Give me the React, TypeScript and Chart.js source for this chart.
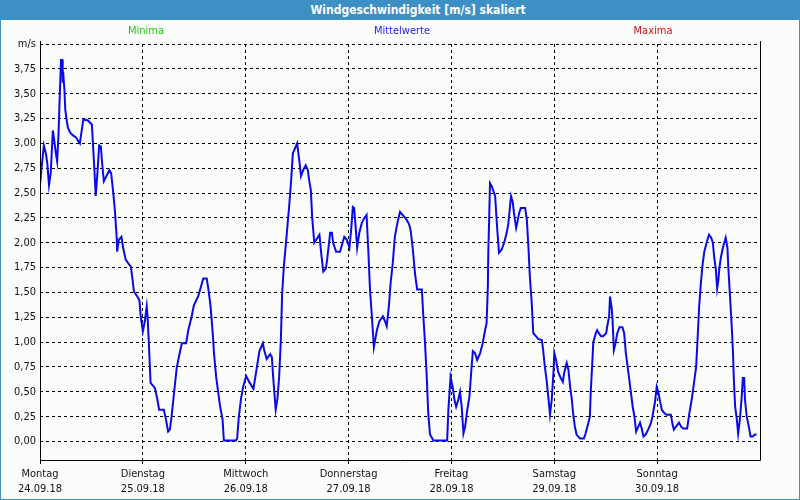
import React, { useEffect, useRef } from "react";
import { Chart, registerables } from "chart.js";

Chart.register(...registerables);

// hours since Monday 24.09.18 00:00
const hours = [
  0.0, 0.4, 0.9, 1.4, 1.7, 2.1, 2.5, 3.0, 3.3, 3.7, 4.0, 4.3, 4.5, 4.7, 4.9, 5.2, 5.3, 5.4, 5.7, 5.9,
  6.2, 6.5, 7.0, 7.7, 8.4, 9.1, 9.3, 10.1, 11.2, 12.1, 12.3, 12.7, 13.0, 13.4, 13.8, 14.2, 14.5, 14.9, 15.6, 16.2,
  16.6, 17.1, 17.5, 17.9, 18.0, 18.4, 19.0, 19.4, 20.0, 20.8, 21.2, 21.6, 21.9, 22.7, 23.2, 23.5, 24.0, 24.5, 24.9, 25.1,
  25.4, 25.8, 26.8, 27.4, 27.8, 28.9, 29.4, 29.9, 30.3, 30.7, 31.3, 31.9, 32.5, 33.1, 34.1, 34.6, 35.4, 35.9, 36.9, 37.7,
  38.1, 38.9, 39.3, 39.8, 40.3, 40.6, 41.1, 41.6, 42.0, 42.6, 42.9, 45.7, 46.0, 46.4, 46.9, 47.4, 48.1, 48.8, 49.8, 50.4,
  51.2, 52.0, 52.3, 52.9, 53.7, 54.1, 54.4, 55.0, 55.4, 55.8, 56.2, 56.5, 56.9, 57.6, 58.2, 58.6, 59.0, 59.5, 60.0, 60.5,
  60.9, 61.4, 62.0, 62.5, 62.8, 63.2, 63.5, 64.0, 64.6, 65.2, 65.6, 66.1, 66.7, 67.0, 67.7, 68.1, 68.4, 69.1, 70.0, 70.4,
  71.0, 71.6, 72.2, 72.6, 73.0, 73.3, 73.7, 74.0, 74.5, 75.1, 75.7, 76.2, 76.6, 77.0, 77.5, 77.9, 78.6, 79.2, 80.0, 80.5,
  80.9, 81.4, 81.8, 82.3, 82.8, 83.4, 84.0, 84.6, 85.4, 86.1, 86.5, 87.0, 87.5, 88.0, 89.1, 89.4, 89.8, 90.2, 90.6, 91.0,
  91.8, 95.0, 95.3, 95.8, 96.3, 96.7, 97.1, 97.6, 98.0, 98.4, 98.8, 99.2, 99.7, 100.2, 100.6, 101.0, 101.5, 102.0, 102.7, 103.3,
  103.8, 104.2, 104.5, 104.6, 104.8, 105.0, 105.4, 105.8, 106.2, 106.4, 106.7, 107.1, 107.7, 108.3, 108.9, 109.3, 109.7, 109.9, 110.3, 110.6,
  111.1, 111.4, 111.8, 112.2, 113.2, 113.6, 114.0, 114.3, 114.7, 115.1, 115.7, 116.3, 117.1, 117.4, 117.8, 118.2, 118.6, 119.0, 119.4, 119.8,
  120.0, 120.4, 120.9, 121.5, 122.0, 122.3, 122.9, 123.3, 123.7, 124.1, 124.4, 124.8, 125.2, 126.0, 126.9, 127.3, 127.9, 128.3, 128.5, 128.9,
  129.1, 129.7, 130.0, 130.4, 130.9, 131.4, 132.1, 132.4, 132.8, 133.0, 133.2, 133.4, 133.6, 133.9, 134.3, 134.7, 135.2, 135.9, 136.3, 136.7,
  137.3, 137.8, 138.3, 138.7, 139.1, 139.6, 140.0, 140.4, 140.8, 141.3, 141.9, 142.5, 142.9, 143.5, 143.9, 144.3, 144.7, 145.1, 145.6, 146.2,
  146.8, 147.2, 147.6, 147.9, 148.4, 149.1, 149.6, 150.1, 151.0, 151.5, 152.1, 152.6, 153.1, 153.5, 153.8, 154.2, 154.6, 155.0, 155.6, 156.1,
  156.6, 157.0, 157.3, 157.7, 158.0, 158.3, 158.5, 158.9, 159.4, 160.0, 160.4, 160.6, 161.0, 161.4, 161.7, 161.9, 162.2, 162.6, 162.9, 163.3,
  163.7, 164.0, 164.3, 164.5, 164.9, 165.3, 165.8, 166.3, 166.8, 167.2,
];

// mean wind speed [m/s]
const speeds = [
  2.58, 2.77, 2.98, 2.89, 2.80, 2.58, 2.70, 3.13, 3.04, 2.90, 2.82, 3.07, 3.34, 3.59, 3.84, 3.84, 3.61, 3.72, 3.54, 3.34,
  3.24, 3.16, 3.11, 3.08, 3.06, 3.01, 3.00, 3.24, 3.23, 3.19, 3.04, 2.73, 2.47, 2.70, 2.98, 2.97, 2.80, 2.62, 2.68, 2.73,
  2.70, 2.50, 2.31, 2.05, 1.91, 2.03, 2.06, 1.95, 1.83, 1.78, 1.76, 1.63, 1.51, 1.46, 1.42, 1.26, 1.11, 1.22, 1.36, 1.26,
  0.99, 0.59, 0.54, 0.42, 0.32, 0.32, 0.22, 0.10, 0.12, 0.25, 0.50, 0.74, 0.87, 0.99, 0.99, 1.12, 1.26, 1.37, 1.46, 1.58,
  1.64, 1.64, 1.53, 1.36, 1.09, 0.89, 0.65, 0.49, 0.36, 0.22, 0.01, 0.01, 0.03, 0.25, 0.43, 0.55, 0.66, 0.60, 0.53, 0.69,
  0.91, 0.99, 0.92, 0.83, 0.88, 0.85, 0.65, 0.32, 0.43, 0.65, 1.02, 1.49, 1.76, 2.10, 2.40, 2.63, 2.90, 2.95, 3.00, 2.83,
  2.67, 2.73, 2.78, 2.73, 2.63, 2.53, 2.26, 2.00, 2.04, 2.08, 1.90, 1.71, 1.74, 1.83, 2.10, 2.10, 2.00, 1.91, 1.91, 1.97,
  2.06, 2.03, 1.95, 2.13, 2.36, 2.35, 2.13, 1.95, 2.10, 2.20, 2.25, 2.28, 1.93, 1.53, 1.22, 0.95, 1.12, 1.21, 1.26, 1.21,
  1.16, 1.36, 1.59, 1.79, 2.06, 2.20, 2.31, 2.28, 2.24, 2.19, 2.12, 1.93, 1.69, 1.53, 1.53, 1.29, 1.02, 0.69, 0.28, 0.07,
  0.01, 0.01, 0.33, 0.65, 0.55, 0.42, 0.35, 0.42, 0.50, 0.35, 0.08, 0.15, 0.32, 0.45, 0.69, 0.91, 0.89, 0.82, 0.89, 0.99,
  1.11, 1.19, 1.56, 1.90, 2.23, 2.60, 2.57, 2.52, 2.47, 2.33, 2.13, 1.90, 1.93, 2.00, 2.10, 2.20, 2.38, 2.47, 2.41, 2.30,
  2.15, 2.21, 2.30, 2.35, 2.35, 2.23, 1.93, 1.66, 1.42, 1.09, 1.06, 1.03, 1.02, 0.92, 0.75, 0.62, 0.45, 0.27, 0.42, 0.69,
  0.89, 0.82, 0.70, 0.64, 0.60, 0.69, 0.79, 0.72, 0.55, 0.42, 0.28, 0.15, 0.07, 0.03, 0.03, 0.08, 0.18, 0.25, 0.49, 0.82,
  1.00, 1.09, 1.12, 1.09, 1.06, 1.06, 1.09, 1.17, 1.26, 1.46, 1.46, 1.34, 1.22, 0.92, 0.99, 1.09, 1.15, 1.15, 1.09, 0.89,
  0.69, 0.52, 0.35, 0.25, 0.10, 0.15, 0.19, 0.13, 0.05, 0.07, 0.12, 0.18, 0.25, 0.40, 0.55, 0.49, 0.40, 0.32, 0.29, 0.27,
  0.27, 0.27, 0.17, 0.12, 0.15, 0.19, 0.15, 0.13, 0.13, 0.28, 0.43, 0.59, 0.75, 1.09, 1.36, 1.59, 1.78, 1.91, 2.01, 2.08,
  2.05, 2.00, 1.86, 1.73, 1.54, 1.63, 1.74, 1.86, 1.96, 2.05, 1.95, 1.76, 1.46, 1.16, 0.89, 0.62, 0.35, 0.22, 0.08, 0.22,
  0.43, 0.64, 0.64, 0.42, 0.25, 0.17, 0.05, 0.05, 0.07, 0.07,
];

const dayNames = ["Montag", "Dienstag", "Mittwoch", "Donnerstag", "Freitag", "Samstag", "Sonntag"];
const dayDates = ["24.09.18", "25.09.18", "26.09.18", "27.09.18", "28.09.18", "29.09.18", "30.09.18"];
const dayTickHours = [0, 24, 48, 72, 96, 120, 144];
const yTickValues = [0, 0.25, 0.5, 0.75, 1, 1.25, 1.5, 1.75, 2, 2.25, 2.5, 2.75, 3, 3.25, 3.5, 3.75, 4];
const yUnitLabel = "m/s";
const titleText = "Windgeschwindigkeit [m/s] skaliert";
const seriesNames = ["Minima", "Mittelwerte", "Maxima"];
const seriesColors = ["#22C812", "#1E1EE6", "#C81414"];

const FONT = "'DejaVu Sans Condensed', 'Liberation Sans', sans-serif";
const FRAME_BLUE = "#3C90C5";
const BG = "#FAFDFA";

const framePlugin = {
  id: "framePlugin",
  afterDraw(chart: any) {
    const { ctx, chartArea } = chart;
    const l = Math.round(chartArea.left) + 0.5;
    const r = Math.round(chartArea.right) + 0.5;
    const t = Math.round(chartArea.top) - 3;
    const b = Math.round(chartArea.bottom) + 0.5;
    ctx.save();
    ctx.strokeStyle = "#000";
    ctx.lineWidth = 1;
    ctx.setLineDash([]);
    ctx.beginPath();
    ctx.moveTo(l, t);
    ctx.lineTo(l, b);
    ctx.lineTo(r, b);
    ctx.lineTo(r, t);
    ctx.stroke();
    ctx.restore();
  },
};

export default function App() {
  const canvasRef = useRef<HTMLCanvasElement | null>(null);

  useEffect(() => {
    document.body.style.margin = "0";
    const canvas = canvasRef.current;
    if (!canvas) return;
    const points = hours.map((h, i) => ({ x: h, y: speeds[i] }));
    const chart = new Chart(canvas, {
      type: "line",
      data: {
        datasets: [
          {
            label: seriesNames[1],
            data: points,
            borderColor: "#0A0AE8",
            borderWidth: 2,
            pointRadius: 0,
            tension: 0,
            fill: false,
          },
        ],
      },
      options: {
        animation: false,
        responsive: false,
        parsing: false as any,
        layout: { padding: { left: 0, right: 40, top: 44, bottom: 0 } },
        plugins: {
          legend: { display: false },
          title: { display: false },
          tooltip: { enabled: false },
        },
        scales: {
          x: {
            type: "linear",
            min: 0,
            max: 168,
            afterBuildTicks: (scale: any) => {
              scale.ticks = dayTickHours.map((v) => ({ value: v }));
            },
            afterFit: (scale: any) => {
              scale.height = 40;
            },
            grid: {
              color: "#000",
              lineWidth: 1,
              drawTicks: true,
              tickLength: 4,
              tickColor: "#000",
            },
            border: { display: false, dash: [3, 3] },
            ticks: {
              autoSkip: false,
              maxRotation: 0,
              padding: 3,
              color: "#111",
              font: { family: FONT, size: 11, lineHeight: 1.36 },
              callback: (v: any) => {
                const i = dayTickHours.indexOf(Number(v));
                return i >= 0 ? [dayNames[i], dayDates[i]] : "";
              },
            },
          },
          y: {
            type: "linear",
            min: -0.186,
            max: 4,
            afterBuildTicks: (scale: any) => {
              scale.ticks = yTickValues.map((v) => ({ value: v }));
            },
            afterFit: (scale: any) => {
              scale.width = 40;
            },
            grid: { color: "#000", lineWidth: 1, drawTicks: false },
            border: { display: false, dash: [3, 3] },
            ticks: {
              padding: 4,
              color: "#111",
              font: { family: FONT, size: 11 },
              callback: (v: any) =>
                Number(v) === 4 ? yUnitLabel : Number(v).toFixed(2).replace(".", ","),
            },
          },
        },
      },
      plugins: [framePlugin],
    });
    return () => chart.destroy();
  }, []);

  const labelCenters = [145, 401, 652];

  return (
    <div
      style={{
        position: "absolute",
        left: 0,
        top: 0,
        width: 800,
        height: 500,
        background: BG,
        boxSizing: "border-box",
        borderLeft: `1px solid ${FRAME_BLUE}`,
        borderRight: `1px solid ${FRAME_BLUE}`,
        borderBottom: `1px solid ${FRAME_BLUE}`,
        overflow: "hidden",
        fontFamily: FONT,
      }}
    >
      <canvas
        ref={canvasRef}
        width={800}
        height={500}
        style={{ position: "absolute", left: -1, top: 0, width: 800, height: 500 }}
      />
      <div
        style={{
          position: "absolute",
          left: -1,
          top: 0,
          width: 800,
          height: 20,
          background: FRAME_BLUE,
        }}
      />
      <div
        style={{
          position: "absolute",
          left: 417,
          top: 0,
          height: 20,
          lineHeight: "20px",
          transform: "translateX(-50%)",
          whiteSpace: "nowrap",
          color: "#fff",
          fontWeight: "bold",
          fontSize: 12,
        }}
      >
        {titleText}
      </div>
      {seriesNames.map((n, i) => (
        <div
          key={n}
          style={{
            position: "absolute",
            left: labelCenters[i],
            top: 24,
            lineHeight: "14px",
            fontSize: 11,
            transform: "translateX(-50%)",
            whiteSpace: "nowrap",
            color: seriesColors[i],
          }}
        >
          {n}
        </div>
      ))}
    </div>
  );
}
